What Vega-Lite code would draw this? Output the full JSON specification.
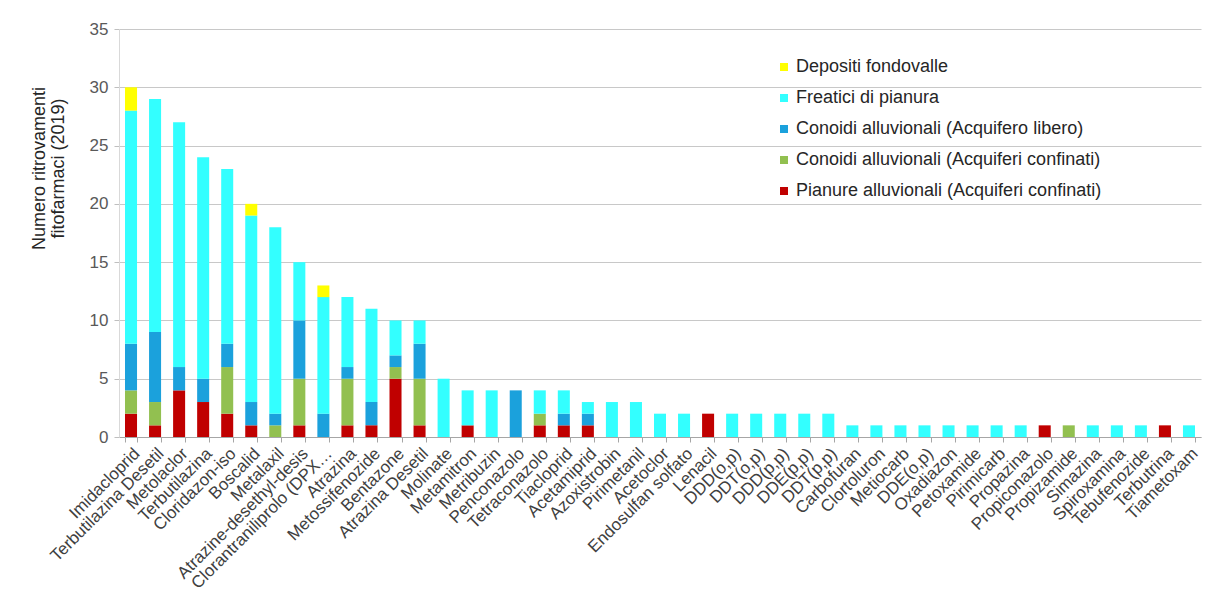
{
  "$schema": "https://vega.github.io/schema/vega-lite/v6.json",
  "width": 1082,
  "height": 408,
  "autosize": {"type": "none"},
  "padding": {"left": 119, "top": 29, "right": 17, "bottom": 167},
  "background": "white",
  "config": {
    "font": "Liberation Sans",
    "view": {"stroke": null}
  },
  "data": {
    "values": [
      {"p": "Imidacloprid", "s": "Pianure alluvionali (Acquiferi confinati)", "n": 2},
      {"p": "Imidacloprid", "s": "Conoidi alluvionali (Acquiferi confinati)", "n": 2},
      {"p": "Imidacloprid", "s": "Conoidi alluvionali (Acquifero libero)", "n": 4},
      {"p": "Imidacloprid", "s": "Freatici di pianura", "n": 20},
      {"p": "Imidacloprid", "s": "Depositi fondovalle", "n": 2},
      {"p": "Terbutilazina Desetil", "s": "Pianure alluvionali (Acquiferi confinati)", "n": 1},
      {"p": "Terbutilazina Desetil", "s": "Conoidi alluvionali (Acquiferi confinati)", "n": 2},
      {"p": "Terbutilazina Desetil", "s": "Conoidi alluvionali (Acquifero libero)", "n": 6},
      {"p": "Terbutilazina Desetil", "s": "Freatici di pianura", "n": 20},
      {"p": "Metolaclor", "s": "Pianure alluvionali (Acquiferi confinati)", "n": 4},
      {"p": "Metolaclor", "s": "Conoidi alluvionali (Acquifero libero)", "n": 2},
      {"p": "Metolaclor", "s": "Freatici di pianura", "n": 21},
      {"p": "Terbutilazina", "s": "Pianure alluvionali (Acquiferi confinati)", "n": 3},
      {"p": "Terbutilazina", "s": "Conoidi alluvionali (Acquifero libero)", "n": 2},
      {"p": "Terbutilazina", "s": "Freatici di pianura", "n": 19},
      {"p": "Cloridazon-iso", "s": "Pianure alluvionali (Acquiferi confinati)", "n": 2},
      {"p": "Cloridazon-iso", "s": "Conoidi alluvionali (Acquiferi confinati)", "n": 4},
      {"p": "Cloridazon-iso", "s": "Conoidi alluvionali (Acquifero libero)", "n": 2},
      {"p": "Cloridazon-iso", "s": "Freatici di pianura", "n": 15},
      {"p": "Boscalid", "s": "Pianure alluvionali (Acquiferi confinati)", "n": 1},
      {"p": "Boscalid", "s": "Conoidi alluvionali (Acquifero libero)", "n": 2},
      {"p": "Boscalid", "s": "Freatici di pianura", "n": 16},
      {"p": "Boscalid", "s": "Depositi fondovalle", "n": 1},
      {"p": "Metalaxil", "s": "Conoidi alluvionali (Acquiferi confinati)", "n": 1},
      {"p": "Metalaxil", "s": "Conoidi alluvionali (Acquifero libero)", "n": 1},
      {"p": "Metalaxil", "s": "Freatici di pianura", "n": 16},
      {"p": "Atrazine-desethyl-desis", "s": "Pianure alluvionali (Acquiferi confinati)", "n": 1},
      {"p": "Atrazine-desethyl-desis", "s": "Conoidi alluvionali (Acquiferi confinati)", "n": 4},
      {"p": "Atrazine-desethyl-desis", "s": "Conoidi alluvionali (Acquifero libero)", "n": 5},
      {"p": "Atrazine-desethyl-desis", "s": "Freatici di pianura", "n": 5},
      {"p": "Clorantraniliprolo (DPX…", "s": "Conoidi alluvionali (Acquifero libero)", "n": 2},
      {"p": "Clorantraniliprolo (DPX…", "s": "Freatici di pianura", "n": 10},
      {"p": "Clorantraniliprolo (DPX…", "s": "Depositi fondovalle", "n": 1},
      {"p": "Atrazina", "s": "Pianure alluvionali (Acquiferi confinati)", "n": 1},
      {"p": "Atrazina", "s": "Conoidi alluvionali (Acquiferi confinati)", "n": 4},
      {"p": "Atrazina", "s": "Conoidi alluvionali (Acquifero libero)", "n": 1},
      {"p": "Atrazina", "s": "Freatici di pianura", "n": 6},
      {"p": "Metossifenozide", "s": "Pianure alluvionali (Acquiferi confinati)", "n": 1},
      {"p": "Metossifenozide", "s": "Conoidi alluvionali (Acquifero libero)", "n": 2},
      {"p": "Metossifenozide", "s": "Freatici di pianura", "n": 8},
      {"p": "Bentazone", "s": "Pianure alluvionali (Acquiferi confinati)", "n": 5},
      {"p": "Bentazone", "s": "Conoidi alluvionali (Acquiferi confinati)", "n": 1},
      {"p": "Bentazone", "s": "Conoidi alluvionali (Acquifero libero)", "n": 1},
      {"p": "Bentazone", "s": "Freatici di pianura", "n": 3},
      {"p": "Atrazina Desetil", "s": "Pianure alluvionali (Acquiferi confinati)", "n": 1},
      {"p": "Atrazina Desetil", "s": "Conoidi alluvionali (Acquiferi confinati)", "n": 4},
      {"p": "Atrazina Desetil", "s": "Conoidi alluvionali (Acquifero libero)", "n": 3},
      {"p": "Atrazina Desetil", "s": "Freatici di pianura", "n": 2},
      {"p": "Molinate", "s": "Freatici di pianura", "n": 5},
      {"p": "Metamitron", "s": "Pianure alluvionali (Acquiferi confinati)", "n": 1},
      {"p": "Metamitron", "s": "Freatici di pianura", "n": 3},
      {"p": "Metribuzin", "s": "Freatici di pianura", "n": 4},
      {"p": "Penconazolo", "s": "Conoidi alluvionali (Acquifero libero)", "n": 4},
      {"p": "Tetraconazolo", "s": "Pianure alluvionali (Acquiferi confinati)", "n": 1},
      {"p": "Tetraconazolo", "s": "Conoidi alluvionali (Acquiferi confinati)", "n": 1},
      {"p": "Tetraconazolo", "s": "Freatici di pianura", "n": 2},
      {"p": "Tiacloprid", "s": "Pianure alluvionali (Acquiferi confinati)", "n": 1},
      {"p": "Tiacloprid", "s": "Conoidi alluvionali (Acquifero libero)", "n": 1},
      {"p": "Tiacloprid", "s": "Freatici di pianura", "n": 2},
      {"p": "Acetamiprid", "s": "Pianure alluvionali (Acquiferi confinati)", "n": 1},
      {"p": "Acetamiprid", "s": "Conoidi alluvionali (Acquifero libero)", "n": 1},
      {"p": "Acetamiprid", "s": "Freatici di pianura", "n": 1},
      {"p": "Azoxistrobin", "s": "Freatici di pianura", "n": 3},
      {"p": "Pirimetanil", "s": "Freatici di pianura", "n": 3},
      {"p": "Acetoclor", "s": "Freatici di pianura", "n": 2},
      {"p": "Endosulfan solfato", "s": "Freatici di pianura", "n": 2},
      {"p": "Lenacil", "s": "Pianure alluvionali (Acquiferi confinati)", "n": 2},
      {"p": "DDD(o,p)", "s": "Freatici di pianura", "n": 2},
      {"p": "DDT(o,p)", "s": "Freatici di pianura", "n": 2},
      {"p": "DDD(p,p)", "s": "Freatici di pianura", "n": 2},
      {"p": "DDE(p,p)", "s": "Freatici di pianura", "n": 2},
      {"p": "DDT(p,p)", "s": "Freatici di pianura", "n": 2},
      {"p": "Carbofuran", "s": "Freatici di pianura", "n": 1},
      {"p": "Clortoluron", "s": "Freatici di pianura", "n": 1},
      {"p": "Metiocarb", "s": "Freatici di pianura", "n": 1},
      {"p": "DDE(o,p)", "s": "Freatici di pianura", "n": 1},
      {"p": "Oxadiazon", "s": "Freatici di pianura", "n": 1},
      {"p": "Petoxamide", "s": "Freatici di pianura", "n": 1},
      {"p": "Pirimicarb", "s": "Freatici di pianura", "n": 1},
      {"p": "Propazina", "s": "Freatici di pianura", "n": 1},
      {"p": "Propiconazolo", "s": "Pianure alluvionali (Acquiferi confinati)", "n": 1},
      {"p": "Propizamide", "s": "Conoidi alluvionali (Acquiferi confinati)", "n": 1},
      {"p": "Simazina", "s": "Freatici di pianura", "n": 1},
      {"p": "Spiroxamina", "s": "Freatici di pianura", "n": 1},
      {"p": "Tebufenozide", "s": "Freatici di pianura", "n": 1},
      {"p": "Terbutrina", "s": "Pianure alluvionali (Acquiferi confinati)", "n": 1},
      {"p": "Tiametoxam", "s": "Freatici di pianura", "n": 1}
    ]
  },
  "transform": [
    {"calculate": "indexof(['Pianure alluvionali (Acquiferi confinati)','Conoidi alluvionali (Acquiferi confinati)','Conoidi alluvionali (Acquifero libero)','Freatici di pianura','Depositi fondovalle'], datum.s)", "as": "o"}
  ],
  "mark": {"type": "bar"},
  "encoding": {
    "x": {
      "field": "p",
      "type": "nominal",
      "sort": null,
      "scale": {"paddingInner": 0.5, "paddingOuter": 0.25},
      "axis": {
        "title": null,
        "labelAngle": -45,
        "labelAlign": "right",
        "labelBaseline": "top",
        "labelFontSize": 17,
        "labelColor": "#404040",
        "labelPadding": 3,
        "labelLimit": 300,
        "domainColor": "#a6a6a6",
        "tickColor": "#a6a6a6",
        "tickSize": 5,
        "tickBand": "extent",
        "labelOverlap": false
      }
    },
    "y": {
      "field": "n",
      "type": "quantitative",
      "aggregate": "sum",
      "stack": "zero",
      "scale": {"domain": [0, 35], "nice": false},
      "axis": {
        "values": [0, 5, 10, 15, 20, 25, 30, 35],
        "title": ["Numero ritrovamenti", "fitofarmaci (2019)"],
        "titleFontSize": 18,
        "titleFontWeight": "normal",
        "titleColor": "#262626",
        "titlePadding": 22,
        "titleY": 139,
        "titleLineHeight": 19,
        "labelFontSize": 17,
        "labelColor": "#595959",
        "labelPadding": 6,
        "ticks": true,
        "tickSize": 5,
        "tickColor": "#bfbfbf",
        "domainColor": "#d9d9d9",
        "gridColor": "#c8c8c8",
        "gridWidth": 1
      }
    },
    "color": {
      "field": "s",
      "type": "nominal",
      "scale": {
        "domain": ["Depositi fondovalle", "Freatici di pianura", "Conoidi alluvionali (Acquifero libero)", "Conoidi alluvionali (Acquiferi confinati)", "Pianure alluvionali (Acquiferi confinati)"],
        "range": ["#FFFF00", "#33FFFF", "#1BA1DC", "#92C050", "#C00000"]
      },
      "legend": {
        "title": null,
        "orient": "none",
        "legendX": 656,
        "legendY": 29,
        "symbolType": "square",
        "symbolSize": 64,
        "symbolStrokeWidth": 0,
        "labelFontSize": 18,
        "labelColor": "#262626",
        "labelLimit": 400,
        "rowPadding": 13,
        "labelOffset": 3
      }
    },
    "order": {"field": "o", "type": "quantitative"}
  }
}
